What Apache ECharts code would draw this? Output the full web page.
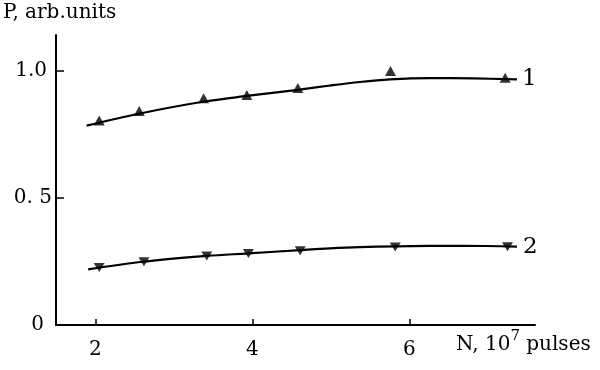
<!DOCTYPE html>
<html>
<head>
<meta charset="utf-8">
<script src="https://cdn.jsdelivr.net/npm/echarts@6/dist/echarts.min.js"></script>
<style>
html,body{margin:0;padding:0;background:#fff;}
#chart{width:600px;height:370px;}
</style>
</head>
<body>
<div id="chart"></div>
<script>
// Curve 1 (fitted line) and its measured points (up triangles)
const curve1X = [1.89, 2.57, 3.37, 3.93, 4.58, 4.99, 5.37, 5.75, 6.26, 6.81, 7.37];
const curve1Y = [0.785, 0.833, 0.879, 0.902, 0.926, 0.943, 0.957, 0.967, 0.972, 0.971, 0.967];
const points1X = [2.05, 2.56, 3.38, 3.93, 4.58, 5.76, 7.22];
const points1Y = [0.805, 0.843, 0.893, 0.906, 0.933, 1.0, 0.974];
// Curve 2 (fitted line) and its measured points (down triangles)
const curve2X = [1.91, 2.61, 3.42, 3.95, 4.61, 4.99, 5.37, 5.82, 6.68, 7.37];
const curve2Y = [0.219, 0.249, 0.272, 0.282, 0.295, 0.302, 0.307, 0.310, 0.312, 0.309];
const points2X = [2.05, 2.62, 3.42, 3.95, 4.61, 5.82, 7.25];
const points2Y = [0.226, 0.249, 0.272, 0.282, 0.292, 0.307, 0.308];
// Axis ticks
const xTicks = [2, 4, 6];
const xTickLabels = ['2', '4', '6'];
const yTicks = [0.5, 1.0];
const yLabelValues = [0, 0.5, 1.0];
const yTickLabels = ['0', '0. 5', '1.0'];
const curveNames = ['1', '2'];
const yAxisTitle = 'P, arb.units';

const FONT = 'DejaVu Serif';
const zip = (xs, ys) => xs.map((x, i) => [x, ys[i]]);

const chart = echarts.init(document.getElementById('chart'), null, {renderer: 'canvas'});
const option = {
  animation: false,
  backgroundColor: '#ffffff',
  grid: {left: 56, right: 65, top: 35, bottom: 45},
  xAxis: {
    type: 'value', min: 1.5, max: 7.6,
    axisLine: {lineStyle: {color: '#000', width: 2}},
    axisTick: {show: true, inside: true, length: 6, customValues: xTicks, lineStyle: {color: '#000', width: 1.5}},
    axisLabel: {
      customValues: xTicks, margin: 15, color: '#000', fontFamily: FONT, fontSize: 20,
      formatter: v => xTickLabels[xTicks.indexOf(v)] ?? ''
    },
    splitLine: {show: false}
  },
  yAxis: {
    type: 'value', min: 0, max: 1.142,
    axisLine: {show: true, lineStyle: {color: '#000', width: 2}},
    axisTick: {show: true, inside: true, length: 8, customValues: yTicks, lineStyle: {color: '#000', width: 1.5}},
    axisLabel: {
      customValues: yLabelValues, margin: 8, color: '#000', fontFamily: FONT, fontSize: 20,
      formatter: v => {
        const i = yLabelValues.findIndex(t => Math.abs(t - v) < 1e-6);
        if (i < 0) return '';
        const pads = ['p0', 'p1', 'p2'];
        return '{' + pads[i] + '|' + yTickLabels[i] + '}';
      },
      rich: {
        p0: {fontFamily: FONT, fontSize: 20, color: '#000', padding: [0, 4, 0, 0]},
        p1: {fontFamily: FONT, fontSize: 20, color: '#000', padding: [0, -4, 0, 0]},
        p2: {fontFamily: FONT, fontSize: 20, color: '#000', padding: [0, 1, 0, 0]}
      }
    },
    splitLine: {show: false}
  },
  graphic: [
    {
      type: 'text', left: 3, top: 3,
      style: {text: yAxisTitle, font: '20px "DejaVu Serif"', fill: '#000'}
    },
    {
      type: 'text', left: 456, top: 329,
      style: {
        text: '{a|N, 10}{s|7}{a| pulses}',
        rich: {
          a: {fontFamily: FONT, fontSize: 20, color: '#000', verticalAlign: 'bottom', lineHeight: 26},
          s: {fontFamily: FONT, fontSize: 15, color: '#000', verticalAlign: 'top', lineHeight: 26, padding: [0, 0, 10, 0]}
        }
      }
    }
  ],
  series: [
    {
      type: 'line', data: zip(curve1X, curve1Y), smooth: 0.35, showSymbol: false, symbol: 'none',
      lineStyle: {color: '#000', width: 2.2},
      endLabel: {show: true, formatter: curveNames[0], distance: 5, color: '#000', fontFamily: FONT, fontSize: 23}
    },
    {
      type: 'scatter', data: zip(points1X, points1Y), symbol: 'triangle', symbolSize: [11, 10],
      itemStyle: {color: '#000'}
    },
    {
      type: 'line', data: zip(curve2X, curve2Y), smooth: 0.35, showSymbol: false, symbol: 'none',
      lineStyle: {color: '#000', width: 2.2},
      endLabel: {show: true, formatter: curveNames[1], distance: 6, color: '#000', fontFamily: FONT, fontSize: 23}
    },
    {
      type: 'scatter', data: zip(points2X, points2Y), symbol: 'triangle', symbolRotate: 180, symbolSize: [11, 9],
      itemStyle: {color: '#000'}
    }
  ]
};
chart.setOption(option);
</script>
</body>
</html>
